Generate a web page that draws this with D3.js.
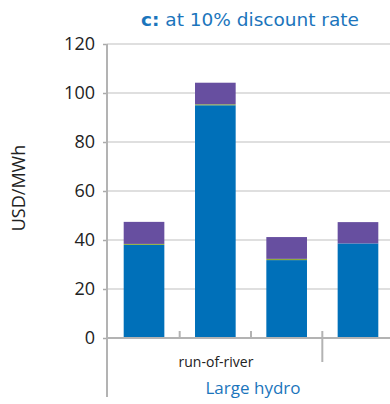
<!DOCTYPE html>
<html>
<head>
<meta charset="utf-8">
<script src="https://cdn.jsdelivr.net/npm/d3@7"></script>
<style>
  body { margin: 0; background: #fff; }
  svg text { font-family: "Open Sans", "Noto Sans", sans-serif; }
</style>
</head>
<body>
<div id="chart"></div>
<script>
// data
const categories = ["A", "B", "C", "D"]
const capital = [38.0, 95.0, 31.8, 38.6]
const other = [0.4, 0.4, 0.5, 0]
const om = [9.0, 8.8, 8.9, 8.7]
const yTicks = [0, 20, 40, 60, 80, 100, 120]

const series = [
    { key: "capital", values: capital, color: "#0070B9" },
    { key: "other", values: other, color: "#8DAA3A" },
    { key: "om", values: om, color: "#674FA0" },
]

const dimensions = {
    width: 390,
    height: 404,
    margin: { top: 44, right: 0, bottom: 66, left: 107 },
}
dimensions.boundedWidth = dimensions.width - dimensions.margin.left - dimensions.margin.right
dimensions.boundedHeight = dimensions.height - dimensions.margin.top - dimensions.margin.bottom

const wrapper = d3.select("#chart")
    .append("svg")
    .attr("width", dimensions.width)
    .attr("height", dimensions.height)

// title
const title = wrapper.append("text")
    .attr("x", 250)
    .attr("y", 26)
    .attr("text-anchor", "middle")
    .style("font-family", "'DejaVu Sans', Verdana, sans-serif")
    .style("font-size", "18.5px")
    .attr("fill", "#1B75BC")
title.append("tspan").style("font-weight", "bold").text("c:")
title.append("tspan").text(" at 10% discount rate")

const bounds = wrapper.append("g")
    .attr("transform", `translate(${dimensions.margin.left},${dimensions.margin.top})`)

const xScale = d3.scaleBand()
    .domain(categories)
    .range([1, 287])
    .paddingInner(0.43)
    .paddingOuter(0.22)

const yScale = d3.scaleLinear()
    .domain([0, 120])
    .range([dimensions.boundedHeight, 0])

// gridlines
bounds.append("g")
    .selectAll("line")
    .data(yTicks.filter(d => d > 0))
    .join("line")
    .attr("x1", 0)
    .attr("x2", dimensions.boundedWidth)
    .attr("y1", d => yScale(d))
    .attr("y2", d => yScale(d))
    .attr("stroke", "#d4d4d4")
    .attr("stroke-width", 1.5)

// y axis
const yAxisGenerator = d3.axisLeft(yScale)
    .tickValues(yTicks)
    .tickSize(4)
    .tickPadding(8)

const yAxis = bounds.append("g").call(yAxisGenerator)
yAxis.select(".domain").remove()
yAxis.selectAll(".tick line").attr("stroke", "#aaa").attr("stroke-width", 1.5)
yAxis.selectAll(".tick text")
    .attr("fill", "#222")
    .style("font-size", "18px")
    .style("font-family", "'Open Sans', sans-serif")

// stacked bars
const stack = d3.stack().keys(series.map(s => s.key))
const rows = categories.map((c, i) => {
    const row = { category: c }
    series.forEach(s => row[s.key] = s.values[i])
    return row
})
const stacked = stack(rows)

bounds.append("g")
    .selectAll("g")
    .data(stacked)
    .join("g")
    .attr("fill", (d, i) => series[i].color)
    .selectAll("rect")
    .data(d => d)
    .join("rect")
    .attr("x", d => xScale(d.data.category))
    .attr("width", xScale.bandwidth())
    .attr("y", d => yScale(d[1]))
    .attr("height", d => yScale(d[0]) - yScale(d[1]))

// baseline and vertical axis line
bounds.append("line")
    .attr("x1", 0)
    .attr("x2", dimensions.boundedWidth)
    .attr("y1", yScale(0))
    .attr("y2", yScale(0))
    .attr("stroke", "#b3b3b3")
    .attr("stroke-width", 2)

bounds.append("line")
    .attr("x1", 0)
    .attr("x2", 0)
    .attr("y1", 0)
    .attr("y2", dimensions.boundedHeight + 59)
    .attr("stroke", "#b3b3b3")
    .attr("stroke-width", 2)

// category separators
const step = xScale.step()
const sepX = [1, 2].map(i => xScale(categories[i]) - step * 0.43 / 2)
bounds.selectAll(".sep")
    .data(sepX)
    .join("line")
    .attr("x1", d => d)
    .attr("x2", d => d)
    .attr("y1", yScale(0) - 7)
    .attr("y2", yScale(0))
    .attr("stroke", "#b3b3b3")
    .attr("stroke-width", 2)

const groupSep = xScale(categories[3]) - step * 0.43 / 2
bounds.append("line")
    .attr("x1", groupSep)
    .attr("x2", groupSep)
    .attr("y1", yScale(0) - 7)
    .attr("y2", yScale(0) + 24)
    .attr("stroke", "#b3b3b3")
    .attr("stroke-width", 2)

// x labels
bounds.append("text")
    .attr("x", 109)
    .attr("y", yScale(0) + 29)
    .attr("text-anchor", "middle")
    .attr("fill", "#222")
    .style("font-size", "14px")
    .text("run-of-river")

bounds.append("text")
    .attr("x", 146)
    .attr("y", yScale(0) + 56)
    .attr("text-anchor", "middle")
    .attr("fill", "#1B75BC")
    .style("font-size", "17px")
    .text("Large hydro")

// y label
wrapper.append("text")
    .attr("transform", `translate(25, 188) rotate(-90)`)
    .attr("text-anchor", "middle")
    .attr("fill", "#222")
    .style("font-size", "18px")
    .text("USD/MWh")
</script>
</body>
</html>
